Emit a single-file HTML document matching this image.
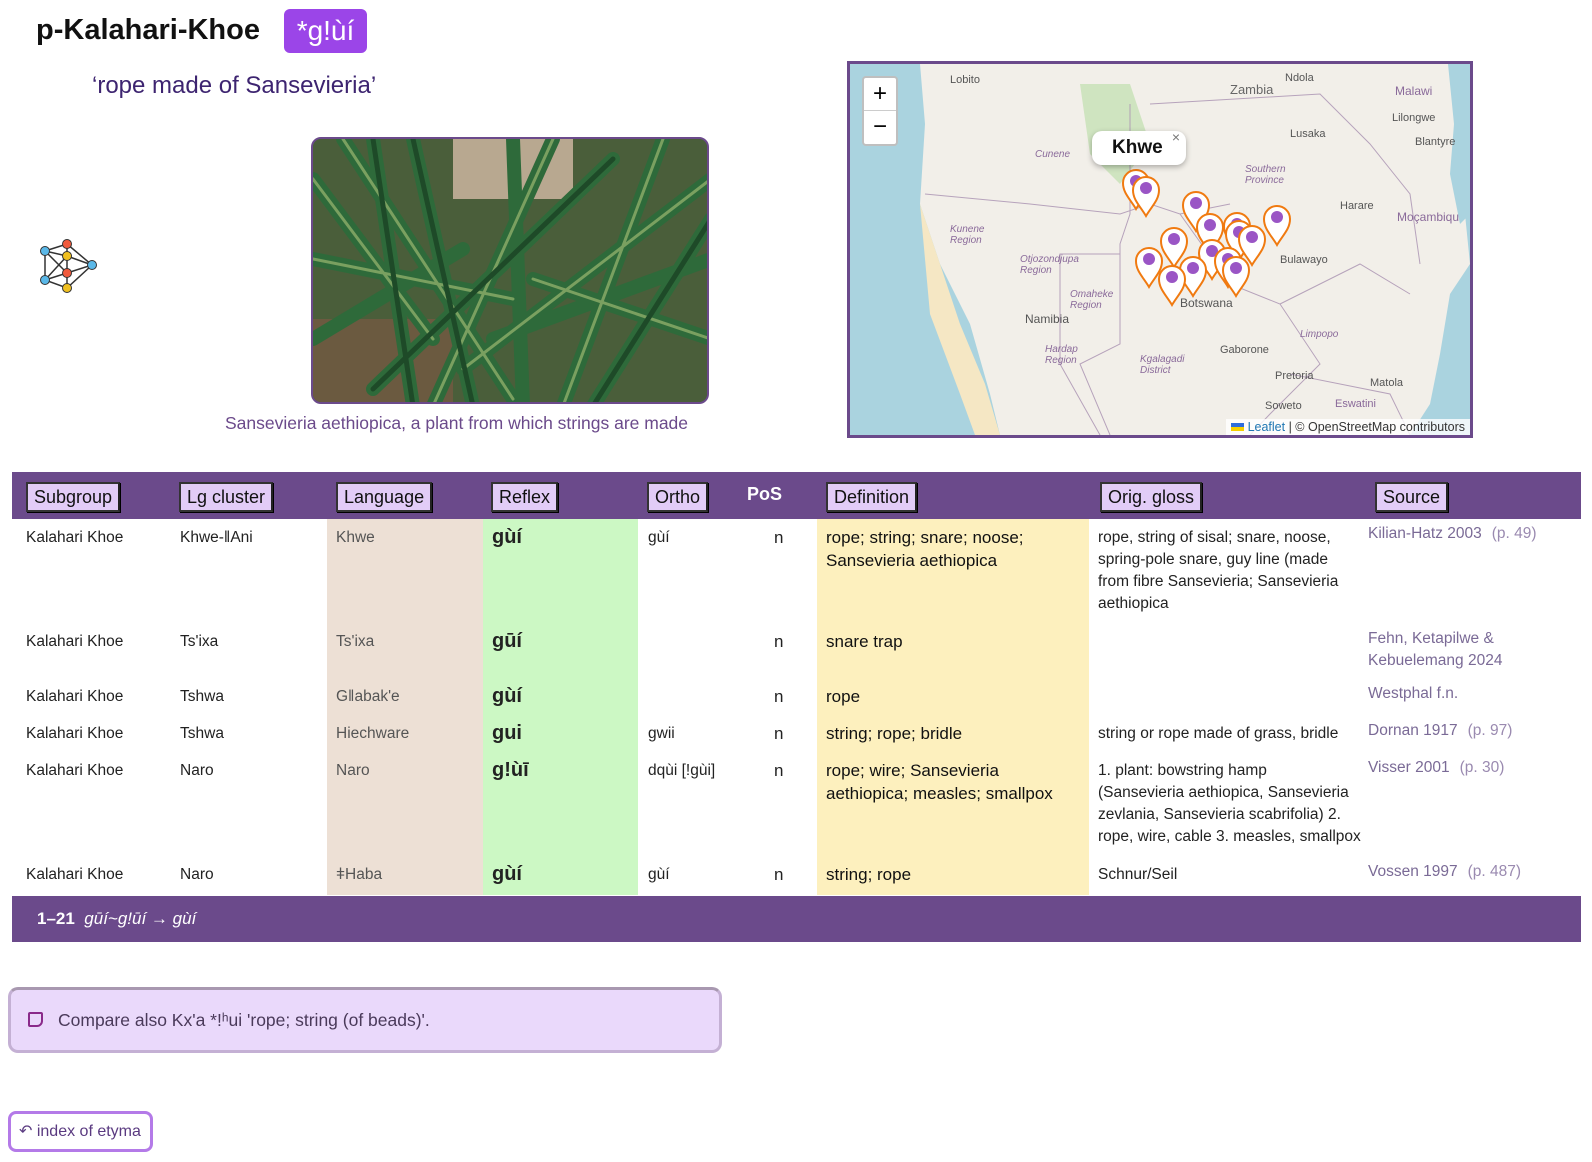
<!DOCTYPE html>
<html><head><meta charset="utf-8">
<style>
*{box-sizing:border-box;margin:0;padding:0}
body{width:1592px;height:1162px;background:#fff;font-family:"Liberation Sans",sans-serif;position:relative;overflow:hidden;color:#222}
.abs{position:absolute}
.th{position:absolute;top:482px;height:30px;background:#e2ccf7;border:2px solid #333;border-right-color:#222;font-size:18px;line-height:26px;padding:0 6px;color:#111;box-shadow:1px 1px 0 #000}
.c{position:absolute;font-size:15.5px;line-height:22px;color:#222}
.lang{color:#555}
.ref{font-weight:bold;font-size:20px}
.def{font-size:17px;color:#111;line-height:22.5px}
.src{color:#7a6a96;font-size:15.5px}
.src span{margin-left:10px;color:#9a8ab0}
</style></head><body>
<div class="abs" style="left:36px;top:14px;font-size:29px;font-weight:bold;color:#111">p-Kalahari-Khoe</div>
<div class="abs" style="left:284px;top:9px;width:83px;height:44px;background:#9b45e8;border-radius:6px;color:#fff;font-size:28px;line-height:44px;text-align:center">*g!ùí</div>
<div class="abs" style="left:92px;top:72px;font-size:24px;color:#3d2470">‘rope made of Sansevieria’</div>

<svg class="abs" style="left:40px;top:238px" width="58" height="58" viewBox="0 0 58 58">
<g stroke="#333" stroke-width="1.5" fill="none">
<path d="M5 13L27 6L52 27L27 50L5 42Z M5 13L27 18L52 27L27 35L5 42 M27 6L27 50 M5 13L27 35 M5 42L27 18"/></g>
<g stroke="#333" stroke-width="1"><circle cx="27" cy="6" r="4.5" fill="#f05a3c"/><circle cx="5" cy="13" r="4.5" fill="#5ab8e8"/><circle cx="27" cy="18" r="4.5" fill="#f0c020"/><circle cx="52" cy="27" r="4.5" fill="#5ab8e8"/><circle cx="27" cy="35" r="4.5" fill="#f05a3c"/><circle cx="5" cy="42" r="4.5" fill="#5ab8e8"/><circle cx="27" cy="50" r="4.5" fill="#f0c020"/></g></svg>

<div class="abs" style="left:311px;top:137px;width:398px;height:267px;border:2px solid #6b4a8b;border-radius:10px;overflow:hidden;background:#3d5a34">
<svg width="398" height="267" viewBox="0 0 398 267">
<rect width="398" height="267" fill="#4a5e3a"/>
<rect x="140" y="0" width="120" height="60" fill="#b8a890"/>
<rect x="0" y="180" width="140" height="87" fill="#6b5a40"/>
<g stroke-linecap="round" fill="none">
<path d="M0 40L120 200M30 0L200 260M100 0L160 267M240 0L120 267M300 20L60 250M398 40L150 230M398 120L180 200M350 0L250 267M0 120L200 160M0 200L150 110M398 200L220 140M60 0L100 267M280 267L398 80M200 0L210 267" stroke="#2e6a3a" stroke-width="14"/>
<path d="M0 40L120 200M30 0L200 260M240 0L120 267M398 40L150 230M0 120L200 160M398 200L220 140M350 0L250 267" stroke="#7aa060" stroke-width="3"/>
<path d="M100 0L160 267M300 20L60 250M60 0L100 267M280 267L398 80" stroke="#1e4a28" stroke-width="5"/>
</g></svg></div>
<div class="abs" style="left:225px;top:413px;font-size:17.5px;color:#6b4a8b">Sansevieria aethiopica, a plant from which strings are made</div>

<div class="abs" style="left:847px;top:61px;width:626px;height:377px;border:3px solid #6b4a8b;overflow:hidden;background:#f2efe9">
<svg width="620" height="371" viewBox="0 0 620 371" style="position:absolute;left:0;top:0">
<path d="M0 0L70 0L75 60L70 140L90 200L120 260L140 330L150 371L0 371Z" fill="#aad3df"/>
<path d="M600 0L620 0L620 200L600 230L590 290L580 340L560 371L620 371L620 200Z" fill="#aad3df"/>
<path d="M598 0L604 60L600 110L610 160L620 150L620 0Z" fill="#aad3df"/>
<path d="M230 20L280 20L300 80L270 120L240 90Z" fill="#cfe4c0"/>
<path d="M70 140L80 250L110 330L125 371L150 371L135 320L110 260Z" fill="#f5e7c4"/>
<g stroke="#a890b0" stroke-width="1" fill="none" opacity=".8">
<path d="M75 130L180 140L270 150L300 140L330 150L380 140"/><path d="M280 40L280 150L270 180L270 280L230 300L260 371"/><path d="M270 190L210 190L210 300L250 371"/><path d="M330 150L380 220L430 240L470 300L420 350L400 371"/><path d="M300 40L470 30L520 80L560 130L570 200"/><path d="M430 240L510 200L560 230"/><path d="M440 310L540 330L560 371"/></g>
</svg>
<div class="abs" style="left:12px;top:12px;width:36px;height:70px;background:#fff;border:2px solid rgba(0,0,0,.25);border-radius:4px;font-size:24px;text-align:center;line-height:32px;color:#000">+<div style="border-top:1px solid #ccc">−</div></div>
<div style="position:absolute;font-size:11px;color:#555">
<span class="abs" style="left:100px;top:10px">Lobito</span><span class="abs" style="left:380px;top:18px;font-size:13px;color:#666">Zambia</span><span class="abs" style="left:435px;top:8px">Ndola</span><span class="abs" style="left:440px;top:64px">Lusaka</span><span class="abs" style="left:545px;top:20px;font-size:12px;color:#8a6a9a">Malawi</span><span class="abs" style="left:542px;top:48px">Lilongwe</span><span class="abs" style="left:565px;top:72px">Blantyre</span><span class="abs" style="left:490px;top:136px">Harare</span><span class="abs" style="left:430px;top:190px">Bulawayo</span><span class="abs" style="left:330px;top:232px;font-size:12px">Botswana</span><span class="abs" style="left:175px;top:248px;font-size:12px">Namibia</span><span class="abs" style="left:370px;top:280px">Gaborone</span><span class="abs" style="left:425px;top:306px">Pretoria</span><span class="abs" style="left:547px;top:146px;font-size:12px;color:#8a6a9a">Moçambiqu</span><span class="abs" style="left:520px;top:313px">Matola</span><span class="abs" style="left:485px;top:334px;color:#8a6a9a">Eswatini</span><span class="abs" style="left:415px;top:336px">Soweto</span>
<span class="abs" style="left:185px;top:85px;color:#8a6a9a;font-style:italic;font-size:10px">Cunene</span><span class="abs" style="left:100px;top:160px;color:#8a6a9a;font-style:italic;font-size:10px">Kunene<br>Region</span><span class="abs" style="left:170px;top:190px;color:#8a6a9a;font-style:italic;font-size:10px">Otjozondjupa<br>Region</span><span class="abs" style="left:220px;top:225px;color:#8a6a9a;font-style:italic;font-size:10px">Omaheke<br>Region</span><span class="abs" style="left:290px;top:290px;color:#8a6a9a;font-style:italic;font-size:10px">Kgalagadi<br>District</span><span class="abs" style="left:450px;top:265px;color:#8a6a9a;font-style:italic;font-size:10px">Limpopo</span><span class="abs" style="left:195px;top:280px;color:#8a6a9a;font-style:italic;font-size:10px">Hardap<br>Region</span><span class="abs" style="left:395px;top:100px;color:#8a6a9a;font-style:italic;font-size:10px">Southern<br>Province</span>
</div>
<svg width="620" height="371" viewBox="0 0 620 371" style="position:absolute;left:0;top:0">
<defs><g id="m"><path d="M0 28C-6 18-13 12-13 2A13 13 0 0 1 13 2C13 12 6 18 0 28Z" fill="#fff" stroke="#f07a10" stroke-width="2"/><circle cx="0" cy="0" r="6" fill="#9a55c5"/></g></defs>
<use href="#m" x="286" y="117"/><use href="#m" x="296" y="124"/><use href="#m" x="346" y="139"/><use href="#m" x="360" y="161"/><use href="#m" x="387" y="160"/><use href="#m" x="389" y="168"/><use href="#m" x="402" y="173"/><use href="#m" x="427" y="153"/><use href="#m" x="324" y="175"/><use href="#m" x="362" y="187"/><use href="#m" x="378" y="195"/><use href="#m" x="299" y="195"/><use href="#m" x="343" y="204"/><use href="#m" x="322" y="213"/><use href="#m" x="386" y="204"/>
</svg>
<div class="abs" style="left:242px;top:67px;width:94px;height:34px;background:#fff;border-radius:10px;box-shadow:0 2px 6px rgba(0,0,0,.3);font-weight:bold;font-size:19px;line-height:34px;padding-left:20px;color:#111">Khwe<span style="position:absolute;right:6px;top:-11px;font-weight:normal;font-size:14px;color:#777">×</span></div>
<div class="abs" style="right:0;bottom:0;background:rgba(255,255,255,.8);font-size:12.5px;padding:0 5px;color:#333;line-height:16px"><span style="display:inline-block;width:13px;height:8px;background:linear-gradient(#2d6cdc 50%,#f5d000 50%)"></span> <span style="color:#2077b3">Leaflet</span> | © OpenStreetMap contributors</div>
</div>

<div class="abs" style="left:12px;top:472px;width:1569px;height:47px;background:#6b4a8b"></div>
<div class="abs" style="left:327px;top:519px;width:156px;height:376px;background:#ede0d5"></div>
<div class="abs" style="left:483px;top:519px;width:155px;height:376px;background:#ccf8c4"></div>
<div class="abs" style="left:817px;top:519px;width:272px;height:376px;background:#fdf0be"></div>
<div class="th" style="left:26px">Subgroup</div>
<div class="th" style="left:179px">Lg cluster</div>
<div class="th" style="left:336px">Language</div>
<div class="th" style="left:491px">Reflex</div>
<div class="th" style="left:647px">Ortho</div>
<div class="abs" style="left:747px;top:484px;font-size:18px;font-weight:bold;color:#fff">PoS</div>
<div class="th" style="left:826px">Definition</div>
<div class="th" style="left:1100px">Orig. gloss</div>
<div class="th" style="left:1375px">Source</div>

<div class="c" style="left:26px;top:527px">Kalahari Khoe</div><div class="c" style="left:180px;top:527px">Khwe-ǁAni</div><div class="c lang" style="left:336px;top:527px">Khwe</div><div class="c ref" style="left:492px;top:526px">gùí</div><div class="c" style="left:648px;top:527px">gùí</div><div class="c" style="left:774px;top:527px;font-size:17px">n</div><div class="c def" style="left:826px;top:527px;width:260px">rope; string; snare; noose;<br>Sansevieria aethiopica</div><div class="c" style="left:1098px;top:527px;width:262px">rope, string of sisal; snare, noose,<br>spring-pole snare, guy line (made<br>from fibre Sansevieria; Sansevieria<br>aethiopica</div><div class="c src" style="left:1368px;top:523px">Kilian-Hatz 2003<span>(p. 49)</span></div>

<div class="c" style="left:26px;top:631px">Kalahari Khoe</div><div class="c" style="left:180px;top:631px">Ts'ixa</div><div class="c lang" style="left:336px;top:631px">Ts'ixa</div><div class="c ref" style="left:492px;top:630px">gūí</div><div class="c" style="left:774px;top:631px;font-size:17px">n</div><div class="c def" style="left:826px;top:631px">snare trap</div><div class="c src" style="left:1368px;top:628px;width:180px">Fehn, Ketapilwe &amp;<br>Kebuelemang 2024</div>

<div class="c" style="left:26px;top:686px">Kalahari Khoe</div><div class="c" style="left:180px;top:686px">Tshwa</div><div class="c lang" style="left:336px;top:686px">Gǁabak'e</div><div class="c ref" style="left:492px;top:685px">gùí</div><div class="c" style="left:774px;top:686px;font-size:17px">n</div><div class="c def" style="left:826px;top:686px">rope</div><div class="c src" style="left:1368px;top:683px">Westphal f.n.</div>

<div class="c" style="left:26px;top:723px">Kalahari Khoe</div><div class="c" style="left:180px;top:723px">Tshwa</div><div class="c lang" style="left:336px;top:723px">Hiechware</div><div class="c ref" style="left:492px;top:722px">gui</div><div class="c" style="left:648px;top:723px">gwii</div><div class="c" style="left:774px;top:723px;font-size:17px">n</div><div class="c def" style="left:826px;top:723px">string; rope; bridle</div><div class="c" style="left:1098px;top:723px">string or rope made of grass, bridle</div><div class="c src" style="left:1368px;top:720px">Dornan 1917<span>(p. 97)</span></div>

<div class="c" style="left:26px;top:760px">Kalahari Khoe</div><div class="c" style="left:180px;top:760px">Naro</div><div class="c lang" style="left:336px;top:760px">Naro</div><div class="c ref" style="left:492px;top:759px">g!ùī</div><div class="c" style="left:648px;top:760px">dqùi [!gùi]</div><div class="c" style="left:774px;top:760px;font-size:17px">n</div><div class="c def" style="left:826px;top:760px;width:270px">rope; wire; Sansevieria<br>aethiopica; measles; smallpox</div><div class="c" style="left:1098px;top:760px;width:290px">1. plant: bowstring hamp<br>(Sansevieria aethiopica, Sansevieria<br>zevlania, Sansevieria scabrifolia) 2.<br>rope, wire, cable 3. measles, smallpox</div><div class="c src" style="left:1368px;top:757px">Visser 2001<span>(p. 30)</span></div>

<div class="c" style="left:26px;top:864px">Kalahari Khoe</div><div class="c" style="left:180px;top:864px">Naro</div><div class="c lang" style="left:336px;top:864px">ǂHaba</div><div class="c ref" style="left:492px;top:863px">gùí</div><div class="c" style="left:648px;top:864px">gùí</div><div class="c" style="left:774px;top:864px;font-size:17px">n</div><div class="c def" style="left:826px;top:864px">string; rope</div><div class="c" style="left:1098px;top:864px">Schnur/Seil</div><div class="c src" style="left:1368px;top:861px">Vossen 1997<span>(p. 487)</span></div>

<div class="abs" style="left:12px;top:896px;width:1569px;height:46px;background:#6b4a8b;color:#fff;font-size:17px;line-height:46px;padding-left:25px"><b>1–21</b>&nbsp;&nbsp;<i>gūí~g!ūí → gùí</i></div>

<div class="abs" style="left:8px;top:987px;width:714px;height:66px;background:#ead9fb;border:3px solid #c4b0d4;border-top-color:#a898b0;border-radius:10px;font-size:17.5px;line-height:60px;padding-left:47px;color:#4a3a5a">
<span class="abs" style="left:17px;top:22px;width:15px;height:15px;border:2px solid #8a2a8a;border-radius:2px 2px 6px 2px"></span>Compare also Kx'a *!ʰui 'rope; string (of beads)'.</div>

<div class="abs" style="left:8px;top:1111px;width:145px;height:41px;border:3px solid #b47ae8;border-radius:8px;font-size:16px;line-height:35px;padding-left:8px;color:#5a3a80">↶ index of etyma</div>
</body></html>
